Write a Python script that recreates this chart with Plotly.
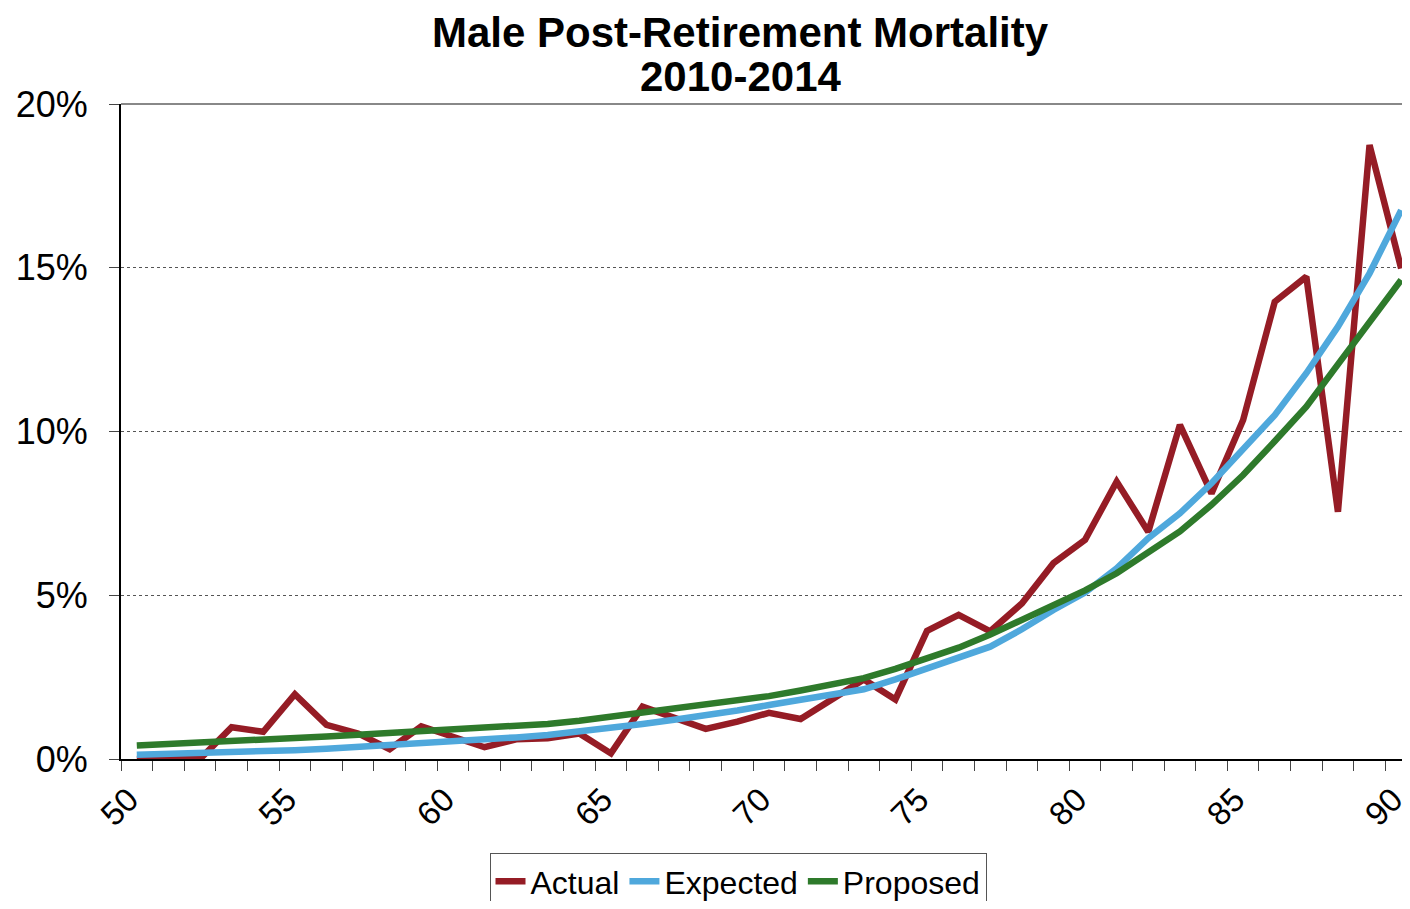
import plotly.graph_objects as go

ages = list(range(50, 91))
actual = [0.0, 0.0, 0.0, 0.97, 0.83, 1.98, 1.04, 0.78, 0.30, 1.00,
          0.66, 0.36, 0.60, 0.63, 0.78, 0.17, 1.60, 1.24, 0.92, 1.14,
          1.41, 1.22, 1.80, 2.43, 1.82, 3.91, 4.40, 3.90, 4.75, 5.98,
          6.69, 8.47, 6.94, 10.20, 8.11, 10.35, 13.96, 14.73, 7.55, 18.75,
          14.98]
expected = [0.13, 0.15, 0.17, 0.20, 0.23, 0.27, 0.31, 0.36, 0.41, 0.47,
            0.53, 0.59, 0.66, 0.73, 0.83, 0.94, 1.07, 1.20, 1.33, 1.48,
            1.65, 1.80, 1.96, 2.13, 2.43, 2.77, 3.08, 3.43, 3.96, 4.55,
            5.08, 5.82, 6.74, 7.50, 8.42, 9.44, 10.50, 11.78, 13.20, 14.83,
            16.76]
proposed = [0.41, 0.45, 0.49, 0.54, 0.59, 0.65, 0.69, 0.74, 0.79, 0.84,
            0.89, 0.95, 1.01, 1.07, 1.17, 1.29, 1.40, 1.51, 1.64, 1.77,
            1.92, 2.09, 2.27, 2.47, 2.75, 3.07, 3.40, 3.80, 4.25, 4.70,
            5.15, 5.67, 6.30, 6.95, 7.76, 8.67, 9.70, 10.76, 12.05, 13.35,
            14.63]
x_tick_vals = [50, 55, 60, 65, 70, 75, 80, 85, 90]
y_tick_vals = [0, 5, 10, 15, 20]
y_tick_text = ["0%", "5%", "10%", "15%", "20%"]
title_line1 = "Male Post-Retirement Mortality"
title_line2 = "2010-2014"

series = [("Actual", actual, "#951C25"),
          ("Expected", expected, "#4FA8DC"),
          ("Proposed", proposed, "#2E7A2B")]

W, H = 1402, 893
ML, MT, MR = 113, 96, 0
PLOT_BOTTOM = 751
MB = H - PLOT_BOTTOM
PH = PLOT_BOTTOM - MT
PW = W - ML - MR


def py(fig_y):
    # figure pixel y -> paper coordinate
    return 1 + (MT - fig_y) / PH


fig = go.Figure()
for name, vals, col in series:
    fig.add_trace(go.Scatter(x=ages, y=vals, name=name, mode="lines",
                             line=dict(color=col, width=6.5, shape="linear")))

FONT = "Liberation Sans, Arial, sans-serif"
fig.update_layout(
    width=W, height=H,
    paper_bgcolor="white", plot_bgcolor="white",
    margin=dict(l=ML, r=MR, t=MT, b=MB, autoexpand=False),
    font=dict(family=FONT, color="black"),
    showlegend=True,
    legend=dict(orientation="h", x=730/W, xanchor="center", xref="container",
                y=1 - 845/H, yanchor="top", yref="container",
                font=dict(size=32, family=FONT, color="black"),
                bordercolor="#555555", borderwidth=1, bgcolor="white",
                tracegroupgap=0),
)
fig.add_annotation(text="<b>" + title_line1 + "</b>", xref="paper", yref="paper",
                   x=(732 - ML) / PW, y=py(24.5), xanchor="center", yanchor="middle",
                   showarrow=False, font=dict(size=42, family=FONT, color="black"))
fig.add_annotation(text="<b>" + title_line2 + "</b>", xref="paper", yref="paper",
                   x=(732 - ML) / PW, y=py(68), xanchor="center", yanchor="middle",
                   showarrow=False, font=dict(size=42, family=FONT, color="black"))

fig.update_xaxes(
    range=[49.5, 90.28], tickvals=x_tick_vals, ticktext=[str(v) for v in x_tick_vals],
    tickangle=-45, ticks="", showgrid=False, zeroline=False,
    showline=True, linecolor="black", linewidth=2,
    tickfont=dict(size=33, family=FONT, color="black"),
    ticklabelstandoff=6, ticklabelshift=-8, ticklabeloverflow="allow",
    minor=dict(ticks="outside", tick0=49.5, dtick=1, ticklen=10,
               tickcolor="#444444", tickwidth=1, showgrid=False),
)
fig.update_yaxes(
    range=[0, 20], tickvals=y_tick_vals, ticktext=y_tick_text,
    ticks="outside", ticklen=10, tickcolor="#444444", tickwidth=1,
    showgrid=True, gridcolor="#555555", griddash="dot", gridwidth=1,
    zeroline=False, showline=True, linecolor="black", linewidth=2,
    tickfont=dict(size=36, family=FONT, color="black"),
    ticklabelstandoff=14,
)
fig.add_shape(type="line", xref="paper", yref="paper", x0=0, x1=1, y0=1, y1=1,
              line=dict(color="#888888", width=2), layer="above")

fig.write_html("out.html")
